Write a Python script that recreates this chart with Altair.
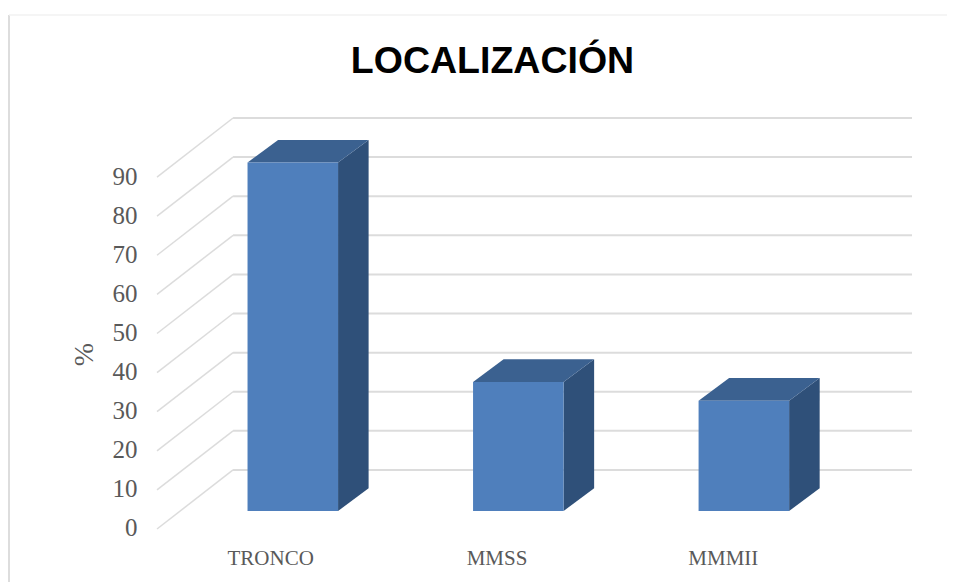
import json
import altair as alt
import pandas as pd

categories = ["TRONCO", "MMSS", "MMMII"]
values = [89.1, 33.0, 28.2]
ticks = [0, 10, 20, 30, 40, 50, 60, 70, 80, 90]
chart_title = "LOCALIZACIÓN"

# 3D projection expressed in data units (x: category slots, y: percent)
WALL_SHIFT_X = -0.336
WALL_SHIFT_Y = -15.1
BAR_START = 0.064
BAR_STEP = 0.9965
BAR_WIDTH = 0.4
BAR_DEPTH_X = 0.135
BAR_DEPTH_Y = 5.8
FLOOR = -10.5

GRID = "#dcdcdc"
TEXT = "#595959"
FRONT = "#4f7fbc"
TOP = "#3b6190"
SIDE = "#2f5079"

x_scale = alt.Scale(domain=[WALL_SHIFT_X, 3], nice=False, zero=False)
y_scale = alt.Scale(domain=[WALL_SHIFT_Y, 90], nice=False, zero=False)

front, side, top, wall, slant = [], [], [], [], []
for i, (c, v) in enumerate(zip(categories, values)):
    x0 = i * BAR_STEP + BAR_START
    x1 = x0 + BAR_WIDTH
    y1 = FLOOR + v
    front.append(dict(c=c, x=x0, x2=x1, y=FLOOR, y2=y1))
    side.append(dict(c=c, x=x1, y=FLOOR, y2=y1))
    side.append(dict(c=c, x=x1 + BAR_DEPTH_X, y=FLOOR + BAR_DEPTH_Y, y2=y1 + BAR_DEPTH_Y))
    top.append(dict(c=c, y=y1, x=x0, x2=x1))
    top.append(dict(c=c, y=y1 + BAR_DEPTH_Y, x=x0 + BAR_DEPTH_X, x2=x1 + BAR_DEPTH_X))
for t in ticks:
    wall.append(dict(t=t, y=t, x=0, x2=3))
    slant.append(dict(t=t, x=WALL_SHIFT_X, y=t + WALL_SHIFT_Y))
    slant.append(dict(t=t, x=0, y=t))

x_axis = alt.Axis(
    values=[0.5, 1.5, 2.5],
    labelExpr="%s[floor(datum.value)]" % json.dumps(categories),
    labelOffset=-76, labelPadding=18, labelFontSize=21, labelFont="Liberation Serif",
    labelColor=TEXT, domain=False, ticks=False, grid=False, title=None)
y_axis = alt.Axis(
    values=ticks, labelOffset=58, labelPadding=20, labelFontSize=25, labelFont="Liberation Serif",
    labelColor=TEXT, domain=False, ticks=False, grid=False,
    title="%", titleFont="Liberation Serif", titleFontSize=28, titleFontWeight="normal",
    titleColor=TEXT, titleX=-59, titleY=236)

X = alt.X("x:Q", scale=x_scale, axis=x_axis)
Y = alt.Y("y:Q", scale=y_scale, axis=y_axis)

wall_layer = alt.Chart(pd.DataFrame(wall)).mark_rule(color=GRID, strokeWidth=2).encode(
    x=X, x2="x2:Q", y=Y)
slant_layer = alt.Chart(pd.DataFrame(slant)).mark_line(color=GRID, strokeWidth=1.5).encode(
    x=X, y=Y, detail="t:N")
side_layer = alt.Chart(pd.DataFrame(side)).mark_area(color=SIDE, orient="vertical").encode(
    x=X, y=Y, y2="y2:Q", detail="c:N")
top_layer = alt.Chart(pd.DataFrame(top)).mark_area(color=TOP, orient="horizontal").encode(
    y=Y, x=X, x2="x2:Q", detail="c:N")
front_layer = alt.Chart(pd.DataFrame(front)).mark_rect(color=FRONT).encode(
    x=X, x2="x2:Q", y=Y, y2="y2:Q")
one = pd.DataFrame({"a": [0]})
border = alt.Chart(one).mark_rule(color="#dddddd", strokeWidth=2).encode(
    x=alt.value(-148), y=alt.value(-103), y2=alt.value(464))
border_top = alt.Chart(one).mark_rule(color="#f2f2f2", strokeWidth=1.5).encode(
    x=alt.value(-148), x2=alt.value(790), y=alt.value(-103))
title_layer = alt.Chart(pd.DataFrame({"t": [chart_title]})).mark_text(
    font="Liberation Sans", fontSize=37.5, fontWeight="bold", color="black",
    align="center", baseline="alphabetic").encode(
    text="t:N", x=alt.value(335.5), y=alt.value(-45))

chart = alt.layer(border, border_top, wall_layer, slant_layer, side_layer, top_layer, front_layer,
                  title_layer).properties(
    width=755, height=411,
    padding={"left": 149, "top": 110, "right": 37, "bottom": 53},
    autosize=alt.AutoSizeParams(type="none"),
    background="white",
).configure_view(stroke=None)

chart.save("out.html", embed_options={"renderer": "svg", "actions": False})
